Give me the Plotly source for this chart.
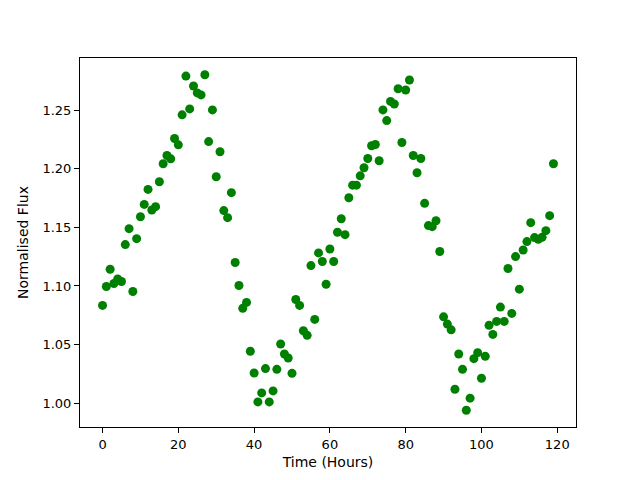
import plotly.graph_objects as go

time_hours = list(range(120))
flux = [
    1.0834, 1.0996, 1.1143, 1.1021, 1.1060, 1.1038, 1.1353, 1.1489, 1.0953, 1.1404,
    1.1591, 1.1696, 1.1824, 1.1648, 1.1677, 1.1889, 1.2043, 1.2113, 1.2085, 1.2258,
    1.2204, 1.2460, 1.2791, 1.2511, 1.2706, 1.2647, 1.2630, 1.2802, 1.2232, 1.2502,
    1.1932, 1.2145, 1.1643, 1.1583, 1.1796, 1.1200, 1.1004, 1.0809, 1.0860, 1.0443,
    1.0258, 1.0011, 1.0088, 1.0295, 1.0011, 1.0105, 1.0289, 1.0505, 1.0420, 1.0386,
    1.0255, 1.0885, 1.0834, 1.0618, 1.0579, 1.1174, 1.0715, 1.1282, 1.1209, 1.1015,
    1.1316, 1.1209, 1.1458, 1.1574, 1.1438, 1.1753, 1.1860, 1.1860, 1.1940, 1.2009,
    1.2088, 1.2196, 1.2207, 1.2068, 1.2502, 1.2411, 1.2575, 1.2553, 1.2683, 1.2224,
    1.2672, 1.2757, 1.2113, 1.1966, 1.2088, 1.1705, 1.1515, 1.1506, 1.1557, 1.1294,
    1.0737, 1.0675, 1.0626, 1.0119, 1.0420, 1.0289, 0.9940, 1.0043, 1.0380, 1.0431,
    1.0213, 1.0400, 1.0664, 1.0587, 1.0698, 1.0820, 1.0698, 1.1149, 1.0766, 1.1251,
    1.0973, 1.1307, 1.1379, 1.1540, 1.1413, 1.1398, 1.1415, 1.1472, 1.1600, 1.2043,
]
x_ticks = [0, 20, 40, 60, 80, 100, 120]
y_ticks = [1.00, 1.05, 1.10, 1.15, 1.20, 1.25]

def padded(vals, frac=0.05):
    lo, hi = min(vals), max(vals)
    d = (hi - lo) * frac
    return [lo - d, hi + d]

fig = go.Figure(go.Scatter(
    x=time_hours, y=flux, mode="markers",
    marker=dict(color="#008000", size=9, line=dict(width=0)),
))

font = dict(family="DejaVu Sans", size=14, color="black")
axis_common = dict(
    showline=True, linecolor="black", linewidth=1, mirror=True,
    ticks="outside", ticklen=5, tickwidth=1, tickcolor="black",
    showgrid=False, zeroline=False, automargin=False,
    tickfont=dict(family="DejaVu Sans", size=13, color="black"),
)
fig.update_layout(
    width=632, height=472,
    margin=dict(l=72, r=64, t=50, b=53),
    paper_bgcolor="white", plot_bgcolor="white",
    font=font, showlegend=False,
    xaxis=dict(range=padded(time_hours), tickvals=x_ticks,
               title=dict(text="Time (Hours)", font=font, standoff=6), **axis_common),
    yaxis=dict(range=padded(flux), tickvals=y_ticks, tickformat=".2f",
               title=dict(text="Normalised Flux", font=font, standoff=10), **axis_common),
)
fig.write_html("out.html")
